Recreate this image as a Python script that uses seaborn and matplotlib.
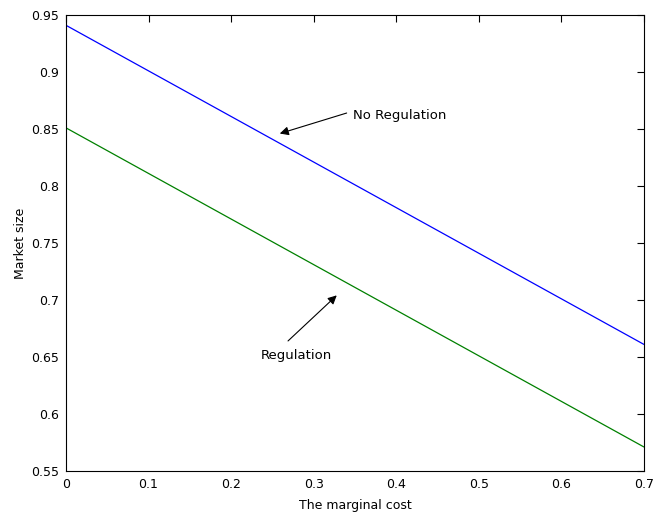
import pandas as pd
import matplotlib.pyplot as plt
import seaborn as sns

# values
cost = [0.0, 0.1, 0.2, 0.3, 0.4, 0.5, 0.6, 0.7]
no_regulation = [0.941, 0.901, 0.861, 0.821, 0.781, 0.741, 0.701, 0.661]
regulation = [0.851, 0.811, 0.771, 0.731, 0.691, 0.651, 0.611, 0.571]

x_ticks = [0, 0.1, 0.2, 0.3, 0.4, 0.5, 0.6, 0.7]
x_labels = ["0", "0.1", "0.2", "0.3", "0.4", "0.5", "0.6", "0.7"]
y_ticks = [0.55, 0.6, 0.65, 0.7, 0.75, 0.8, 0.85, 0.9, 0.95]
y_labels = ["0.55", "0.6", "0.65", "0.7", "0.75", "0.8", "0.85", "0.9", "0.95"]

df = pd.DataFrame({
    "cost": cost + cost,
    "size": no_regulation + regulation,
    "case": ["No Regulation"] * len(cost) + ["Regulation"] * len(cost),
})

sns.set_style("white")
plt.rcParams["font.family"] = ["DejaVu Sans"]
plt.rcParams["text.color"] = "black"
plt.rcParams["axes.labelcolor"] = "black"

fig = plt.figure(figsize=(6.53, 5.18), dpi=100)
ax = fig.add_axes([0.101, 0.091, 0.885, 0.880])

sns.lineplot(data=df, x="cost", y="size", hue="case",
             palette={"No Regulation": "#0000ff", "Regulation": "#008000"},
             linewidth=0.9, legend=False, ax=ax)

ax.set_xlim(0, 0.7)
ax.set_ylim(0.55, 0.95)
ax.set_xticks(x_ticks)
ax.set_xticklabels(x_labels)
ax.set_yticks(y_ticks)
ax.set_yticklabels(y_labels)
ax.tick_params(direction="in", length=5, width=0.8, labelsize=9,
               top=True, right=True, colors="black", pad=5)
for s in ax.spines.values():
    s.set_color("black")
    s.set_linewidth(0.8)

ax.set_xlabel("The marginal cost", fontsize=9, labelpad=6)
ax.set_ylabel("Market size", fontsize=9, labelpad=3)

arrow = dict(arrowstyle="-|>", color="black", lw=0.8,
             mutation_scale=13, shrinkA=0, shrinkB=0)
ax.text(0.348, 0.862, "No Regulation", fontsize=9.5, va="center", ha="left")
ax.annotate("", xy=(0.259, 0.846), xytext=(0.340, 0.864), arrowprops=arrow)
ax.text(0.279, 0.651, "Regulation", fontsize=9.5, va="center", ha="center")
ax.annotate("", xy=(0.328, 0.704), xytext=(0.269, 0.664), arrowprops=arrow)

plt.savefig("out.png", dpi=100)
